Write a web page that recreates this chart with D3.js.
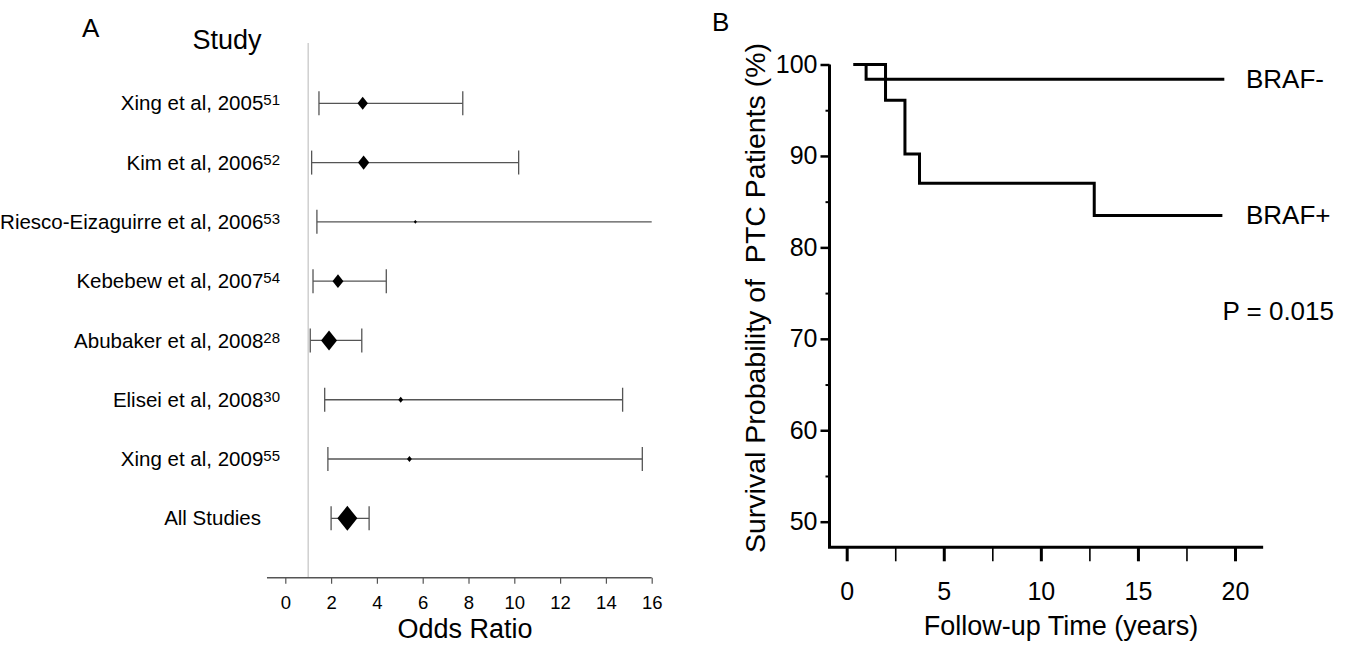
<!DOCTYPE html>
<html>
<head>
<meta charset="utf-8">
<script src="https://cdn.jsdelivr.net/npm/d3@7"></script>
<style>
body { margin: 0; background: #fff; }
text { font-family: "Liberation Sans", Arial, sans-serif; fill: #000; }
</style>
</head>
<body>
<script>
// ---- panel A: forest plot of odds ratios
var studies = ["Xing et al, 2005", "Kim et al, 2006", "Riesco-Eizaguirre et al, 2006",
  "Kebebew et al, 2007", "Abubaker et al, 2008", "Elisei et al, 2008", "Xing et al, 2009", "All Studies"]
var refs = ["51", "52", "53", "54", "28", "30", "55", ""]
var oddsRatio = [3.38, 3.42, 5.68, 2.30, 1.91, 5.04, 5.42, 2.71]
var ciLow = [1.47, 1.15, 1.38, 1.21, 1.09, 1.72, 1.86, 2.00]
var ciHigh = [7.75, 10.19, 18.0, 4.41, 3.34, 14.73, 15.59, 3.66]   // Riesco runs off the scale
var weight = [27, 32, 2.5, 30, 64, 6, 6, 100]
var orTicks = [0, 2, 4, 6, 8, 10, 12, 14, 16]

// ---- panel B: Kaplan-Meier survival
var braNegTime = [0.35, 1.0, 19.45]
var braNegSurv = [100, 98.4, 98.4]
var braPosTime = [0.35, 2.0, 3.0, 3.75, 12.75, 19.35]
var braPosSurv = [100, 96.1, 90.2, 87.0, 83.5, 83.5]
var yearTicks = [0, 5, 10, 15, 20]
var yearMinor = [2.5, 7.5, 12.5, 17.5]
var survTicks = [50, 60, 70, 80, 90, 100]
var survMinor = [55, 65, 75, 85, 95]

var svg = d3.select("body").append("svg")
  .attr("width", 1353)
  .attr("height", 648)

// ================= A =================
var x = d3.scaleLinear().domain([0, 16]).range([285.3, 651.7])
var y = d3.scalePoint().domain(studies).range([103.3, 518.3])
var size = d3.scaleSqrt().domain([0, 100]).range([0, 10])

var rows = studies.map(function(s, i) {
  return {name: s, ref: refs[i], or: oddsRatio[i], lo: ciLow[i], hi: ciHigh[i], w: weight[i]}
})

svg.append("text").attr("x", 82).attr("y", 37).style("font-size", "26px").text("A")
svg.append("text").attr("x", 227).attr("y", 49).attr("text-anchor", "middle")
  .style("font-size", "27px").text("Study")

// line of no effect
svg.append("line")
  .attr("x1", x(1)).attr("x2", x(1))
  .attr("y1", 43).attr("y2", 577.7)
  .attr("stroke", "#cfcfcf").attr("stroke-width", 1.5)

// axis
var axA = svg.append("g").attr("transform", "translate(0,577.7)")
  .call(d3.axisBottom(x).tickValues(orTicks).tickSize(6).tickSizeOuter(0).tickPadding(12))
axA.select(".domain").remove()
axA.append("line").attr("x1", x(-0.8)).attr("x2", x(16)).attr("stroke", "#555").attr("stroke-width", 1.5)
axA.selectAll(".tick line").attr("stroke", "#555").attr("stroke-width", 1.2)
axA.selectAll(".tick text").style("font-size", "18.5px").style("font-family", "Liberation Sans, Arial, sans-serif").attr("fill", "#000")

svg.append("text").attr("x", 465).attr("y", 637.5).attr("text-anchor", "middle")
  .style("font-size", "27px").text("Odds Ratio")

// study labels
var lab = svg.selectAll("text.study").data(rows).enter().append("text")
  .attr("class", "study")
  .attr("x", function(d) { return d.ref ? 280 : 261 })
  .attr("y", function(d) { return y(d.name) })
  .attr("dy", "0.35em")
  .attr("text-anchor", "end")
  .style("font-size", "20.5px")
lab.append("tspan").text(function(d) { return d.name })
lab.append("tspan").attr("dy", -5).style("font-size", "15px").text(function(d) { return d.ref })

// CI lines
var ci = svg.selectAll("g.ci").data(rows).enter().append("g")
  .attr("class", "ci")
  .attr("transform", function(d) { return "translate(0," + y(d.name) + ")" })
  .attr("stroke", "#555").attr("stroke-width", 1.3)
ci.append("line")
  .attr("x1", function(d) { return x(d.lo) })
  .attr("x2", function(d) { return x(Math.min(d.hi, 16)) })
ci.append("line")
  .attr("x1", function(d) { return x(d.lo) }).attr("x2", function(d) { return x(d.lo) })
  .attr("y1", -12).attr("y2", 12)
ci.filter(function(d) { return d.hi <= 16 }).append("line")
  .attr("x1", function(d) { return x(d.hi) }).attr("x2", function(d) { return x(d.hi) })
  .attr("y1", -12).attr("y2", 12)

// diamonds
svg.selectAll("path.pt").data(rows).enter().append("path")
  .attr("class", "pt")
  .attr("d", function(d) {
    var cx = x(d.or), cy = y(d.name), w = size(d.w), h = w * 1.25
    return "M" + (cx - w) + "," + cy + "L" + cx + "," + (cy - h) + "L" + (cx + w) + "," + cy + "L" + cx + "," + (cy + h) + "Z"
  })
  .attr("fill", "#000")

// ================= B =================
var tx = d3.scaleLinear().domain([0, 20]).range([846.7, 1235])
var sy = d3.scaleLinear().domain([50, 100]).range([521.7, 64.5])
var axisY = 547.3, axisX = 829.5

svg.append("text").attr("x", 712).attr("y", 31).style("font-size", "26px").text("B")

// y axis
var gy = svg.append("g").attr("transform", "translate(" + axisX + ",0)")
gy.call(d3.axisLeft(sy).tickValues(survTicks).tickSize(9).tickPadding(3).tickSizeOuter(0))
gy.select(".domain").remove()
gy.selectAll(".tick line").attr("stroke", "#000").attr("stroke-width", 2.5)
gy.selectAll(".tick text").style("font-size", "25px").style("font-family", "Liberation Sans, Arial, sans-serif").attr("fill", "#000")
var gym = svg.append("g").attr("transform", "translate(" + axisX + ",0)")
gym.call(d3.axisLeft(sy).tickValues(survMinor).tickSize(4).tickFormat(""))
gym.select(".domain").remove()
gym.selectAll(".tick line").attr("stroke", "#000").attr("stroke-width", 2)

// x axis
var gx = svg.append("g").attr("transform", "translate(0," + axisY + ")")
gx.call(d3.axisBottom(tx).tickValues(yearTicks).tickSize(14).tickPadding(21).tickSizeOuter(0))
gx.select(".domain").remove()
gx.selectAll(".tick line").attr("stroke", "#000").attr("stroke-width", 3)
gx.selectAll(".tick text").style("font-size", "25px").style("font-family", "Liberation Sans, Arial, sans-serif").attr("fill", "#000")
var gxm = svg.append("g").attr("transform", "translate(0," + axisY + ")")
gxm.call(d3.axisBottom(tx).tickValues(yearMinor).tickSize(14).tickFormat(""))
gxm.select(".domain").remove()
gxm.selectAll(".tick line").attr("stroke", "#000").attr("stroke-width", 1.6)

// axis lines
svg.append("path")
  .attr("d", "M" + axisX + "," + sy(100) + "V" + axisY + "H" + tx(21.45))
  .attr("fill", "none").attr("stroke", "#000").attr("stroke-width", 3)

svg.append("text")
  .attr("transform", "translate(765,298) rotate(-90)")
  .attr("text-anchor", "middle")
  .style("font-size", "28.5px").style("white-space", "pre")
  .text("Survival Probability of  PTC Patients (%)")
svg.append("text").attr("x", 1061).attr("y", 634.5).attr("text-anchor", "middle")
  .style("font-size", "27px").text("Follow-up Time (years)")

// survival curves
var km = d3.line().curve(d3.curveStepAfter)
  .x(function(d) { return tx(d[0]) })
  .y(function(d) { return sy(d[1]) })
var curves = [
  {label: "BRAF-", pts: d3.zip(braNegTime, braNegSurv)},
  {label: "BRAF+", pts: d3.zip(braPosTime, braPosSurv)}
]
svg.selectAll("path.km").data(curves).enter().append("path")
  .attr("class", "km")
  .attr("d", function(d) { return km(d.pts) })
  .attr("fill", "none").attr("stroke", "#000").attr("stroke-width", 3)

svg.selectAll("text.kml").data(curves).enter().append("text")
  .attr("class", "kml")
  .attr("x", 1246)
  .attr("y", function(d) { return sy(d.pts[d.pts.length - 1][1]) })
  .attr("dy", "0.35em")
  .style("font-size", "26px")
  .text(function(d) { return d.label })

svg.append("text").attr("x", 1334).attr("y", 311).attr("dy", "0.35em").attr("text-anchor", "end")
  .style("font-size", "26px").text("P = 0.015")
</script>
</body>
</html>
